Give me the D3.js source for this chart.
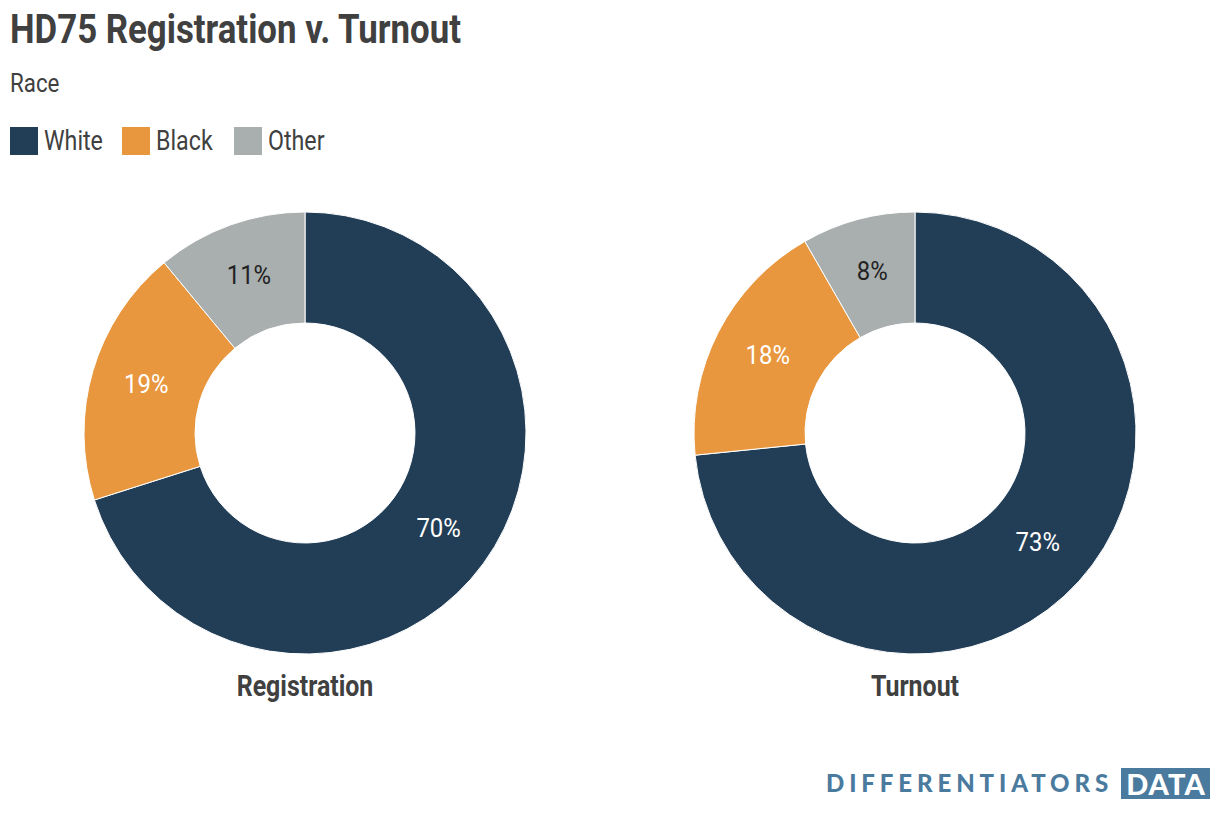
<!DOCTYPE html>
<html>
<head>
<meta charset="utf-8">
<script src="https://cdn.jsdelivr.net/npm/d3@7"></script>
<style>
  body { margin: 0; background: #fff; }
  text { font-family: "Liberation Sans Narrow", "Roboto", sans-serif; }
</style>
</head>
<body>
<div id="chart"></div>
<script>
var width = 1220, height = 818;

// data
var categories = ["White", "Black", "Other"];
var colors = ["#223e57", "#e8973e", "#a9aeae"];
var charts = ["Registration", "Turnout"];
var registration = [70.1, 18.9, 11.0];
var turnout = [73.4, 18.3, 8.3];
var seriesValues = [registration, turnout];

// roboto is wider than the original narrow face, squeeze it a bit
var squeeze = 0.86;

var svg = d3.select("#chart")
  .append("svg")
    .attr("width", width)
    .attr("height", height);

// title + subtitle
svg.append("text")
  .attr("transform", "translate(10,43) scale(0.87,1)")
  .text("HD75 Registration v. Turnout")
  .style("font-size", "40px")
  .style("font-weight", "bold")
  .style("fill", "#404040");

svg.append("text")
  .attr("transform", "translate(10,92) scale(" + squeeze + ",1)")
  .text("Race")
  .style("font-size", "26px")
  .style("fill", "#404040");

// legend
var legendX = [10, 122, 234];
var legend = svg.selectAll(".legend")
  .data(categories)
  .enter()
  .append("g")
    .attr("class", "legend")
    .attr("transform", function(d, i) { return "translate(" + legendX[i] + ",127)"; });
legend.append("rect")
  .attr("width", 28)
  .attr("height", 28)
  .style("fill", function(d, i) { return colors[i]; });
legend.append("text")
  .attr("transform", "translate(34,23) scale(" + squeeze + ",1)")
  .text(function(d) { return d; })
  .style("font-size", "27px")
  .style("fill", "#404040");

// donuts
var outerR = 221, innerR = 110;
var centers = [305, 915];
var pie = d3.pie().sort(null).value(function(d) { return d; });
var arc = d3.arc().innerRadius(innerR).outerRadius(outerR);
var fmt = d3.format(".0f");

charts.forEach(function(name, k) {
  var g = svg.append("g")
    .attr("transform", "translate(" + centers[k] + ",433)");

  var arcs = pie(seriesValues[k]);

  g.selectAll("path")
    .data(arcs)
    .enter()
    .append("path")
      .attr("d", arc)
      .style("fill", function(d, i) { return colors[i]; })
      .style("stroke", "#fff")
      .style("stroke-width", 1);

  g.selectAll(".lbl")
    .data(arcs)
    .enter()
    .append("text")
      .attr("class", "lbl")
      .attr("transform", function(d) { return "translate(" + arc.centroid(d) + ") scale(0.92,1)"; })
      .attr("text-anchor", "middle")
      .attr("dy", "0.25em")
      .text(function(d) { return fmt(d.data) + "%"; })
      .style("font-size", "26px")
      .style("fill", function(d, i) { return i == 2 ? "#222" : "#fff"; });

  g.append("text")
    .attr("transform", "translate(0," + (696 - 433) + ") scale(" + squeeze + ",1)")
    .attr("text-anchor", "middle")
    .text(name)
    .style("font-size", "29px")
    .style("font-weight", "bold")
    .style("fill", "#404040");
});

// footer logo
var logo = svg.append("g");
logo.append("text")
  .attr("x", 826)
  .attr("y", 792)
  .text("DIFFERENTIATORS")
  .style("font-family", "Lato, 'DejaVu Sans', sans-serif")
  .style("font-size", "24px")
  .style("font-weight", "900")
  .style("letter-spacing", "4.9px")
  .style("fill", "#4a7a9e");
logo.append("rect")
  .attr("x", 1121)
  .attr("y", 768)
  .attr("width", 89)
  .attr("height", 31)
  .style("fill", "#4a7a9e");
logo.append("text")
  .attr("x", 1166)
  .attr("y", 795)
  .attr("text-anchor", "middle")
  .text("DATA")
  .style("font-family", "Lato, 'DejaVu Sans', sans-serif")
  .style("font-size", "29px")
  .style("font-weight", "900")
  .style("letter-spacing", "1px")
  .style("fill", "#fff");
</script>
</body>
</html>
